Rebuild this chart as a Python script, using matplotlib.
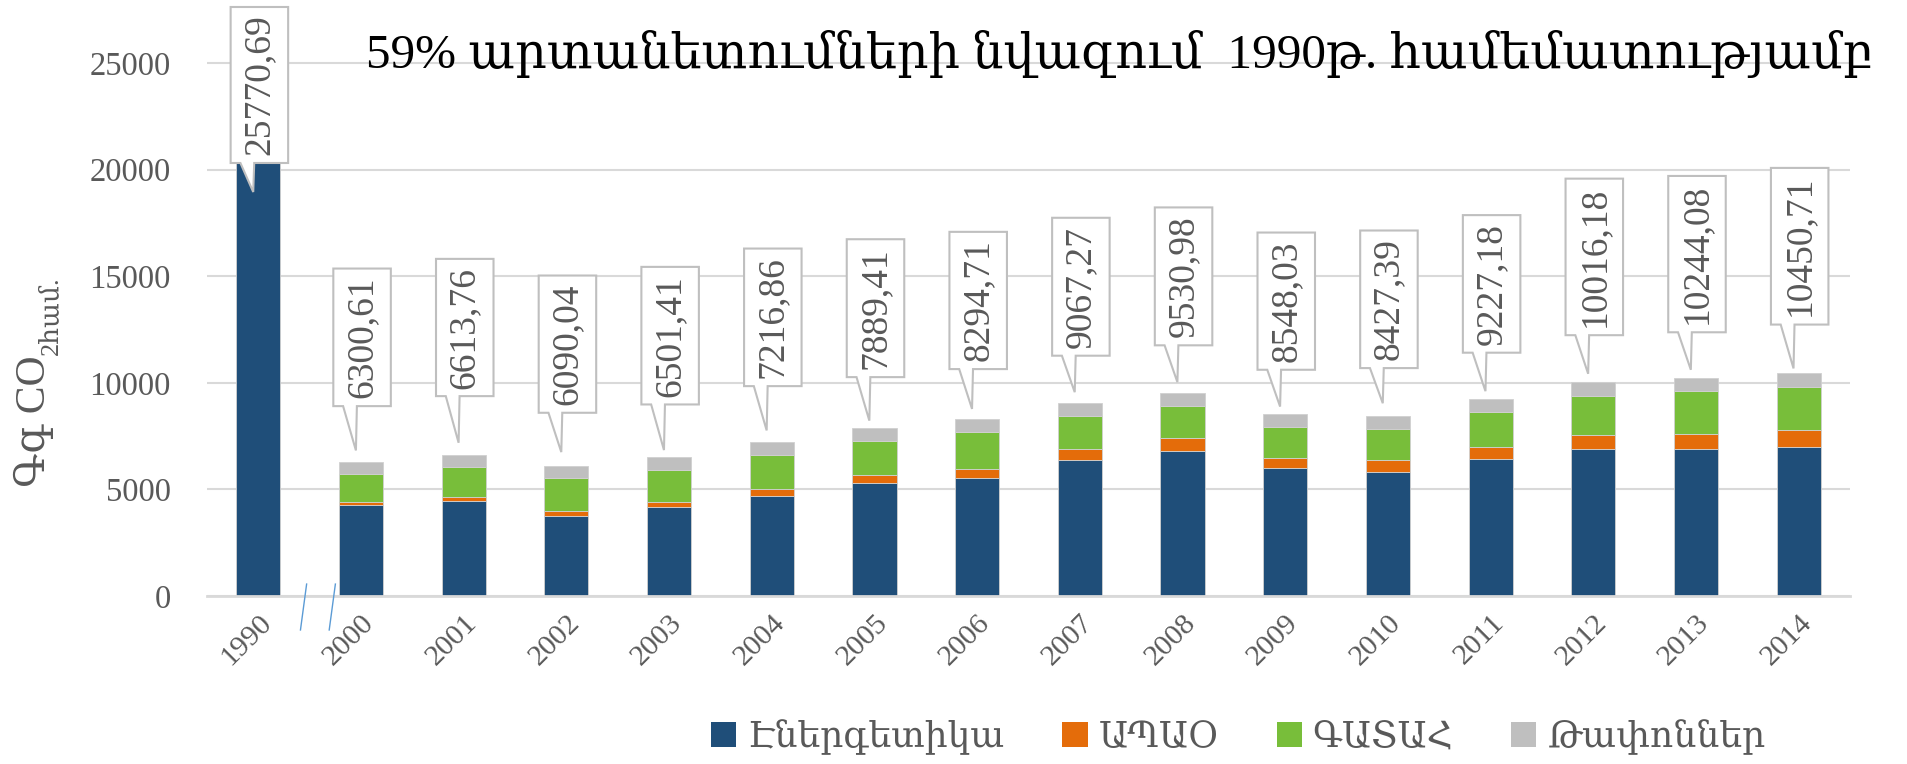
import numpy as np
import matplotlib.pyplot as plt
import matplotlib.transforms as mtransforms
from matplotlib.patches import Polygon, Patch

plt.rcParams['font.family'] = ['Liberation Serif', 'DejaVu Serif', 'DejaVu Sans']

years = ['1990', '2000', '2001', '2002', '2003', '2004', '2005', '2006', '2007',
         '2008', '2009', '2010', '2011', '2012', '2013', '2014']
energy = [25770.69, 4266, 4453, 3750, 4156, 4687, 5281, 5547, 6359, 6797, 6000,
          5812, 6406, 6890, 6875, 6984]
ippu = [0, 156, 172, 219, 235, 329, 391, 422, 516, 609, 453, 547, 594, 672, 734, 797]
afolu = [0, 1312, 1422, 1547, 1515, 1578, 1609, 1718, 1562, 1500, 1469, 1453, 1609,
         1813, 1985, 2016]
waste = [0, 567, 567, 574, 595, 623, 608, 608, 630, 625, 626, 615, 618, 641, 650, 654]
total_labels = ['25770,69', '6300,61', '6613,76', '6090,04', '6501,41', '7216,86',
                '7889,41', '8294,71', '9067,27', '9530,98', '8548,03', '8427,39',
                '9227,18', '10016,18', '10244,08', '10450,71']
series_names = ['Էներգետիկա', 'ԱՊԱՕ', 'ԳԱՏԱՀ', 'Թափոններ']

# callout layout (data units): tail tip, box bottom, box top
call_tip = [18949, 6828, 7187, 6750, 6844, 7766, 8225, 8775, 9560, 10030, 8884,
            9041, 9607, 10423, 10611, 10674]
call_bot = [20310, 8906, 9375, 8594, 8984, 9844, 10266, 10643, 11271, 11758, 10611,
            10690, 11412, 12233, 12370, 12731]
call_top = [27627, 15359, 15812, 15031, 15437, 16297, 16734, 17080, 17740, 18226,
            17048, 17143, 17865, 19576, 19702, 20079]

colors = ['#1F4E79', '#E46C0A', '#78BE3A', '#BFBFBF']
txt_gray = '#595959'
grid_gray = '#D9D9D9'

fig = plt.figure(figsize=(19.08, 7.64), dpi=100)
ax = fig.add_axes([0.1085, 0.2199, 0.8611, 0.7801])

x = np.arange(len(years))
w = 0.43
bottom = np.zeros(len(years))
for vals, c in zip([energy, ippu, afolu, waste], colors):
    vals = np.array(vals, dtype=float)
    ax.bar(x, vals, w, bottom=bottom, color=c, edgecolor='#D0D0D0', linewidth=0.6,
           zorder=2)
    bottom += vals

ax.set_xlim(-0.5, len(years) - 0.5)
ax.set_ylim(0, 27955)
ax.set_yticks(np.arange(0, 25001, 5000))
ax.yaxis.grid(True, color=grid_gray, linewidth=1.5, zorder=0)
ax.set_axisbelow(True)
for s in ['top', 'right', 'left']:
    ax.spines[s].set_visible(False)
ax.spines['bottom'].set_color(grid_gray)
ax.spines['bottom'].set_linewidth(2)
ax.tick_params(axis='y', length=0, pad=26, labelsize=23.5, labelcolor=txt_gray)
ax.tick_params(axis='x', length=0, pad=10, labelsize=21.5, labelcolor=txt_gray)
ax.set_xticks(x)
ax.set_xticklabels(years, rotation=45, ha='right', rotation_mode='anchor')

# callouts
bw = 0.56
for i in range(len(years)):
    L = x[i] - bw / 2 + 0.01
    R = L + bw
    B, T = call_bot[i], call_top[i]
    tipx = x[i] - 0.05
    pts = [(L, B), (L, T), (R, T), (R, B), (L + 0.41 * bw, B), (tipx, call_tip[i]),
           (L + 0.17 * bw, B)]
    ax.add_patch(Polygon(pts, closed=True, facecolor='white', edgecolor='#BFBFBF',
                         linewidth=1.5, zorder=4))
    ax.text((L + R) / 2, (B + T) / 2, total_labels[i], rotation=90, ha='center',
            va='center', fontsize=27, color=txt_gray, zorder=5)

# axis break marks between 1990 and 2000
trans = mtransforms.blended_transform_factory(ax.transData, ax.transAxes)
for xb in [0.44, 0.72]:
    ax.plot([xb + 0.03, xb - 0.03], [0.02, -0.057], color='#5B9BD5', linewidth=1,
            transform=trans, clip_on=False, zorder=5)

# title
fig.text(0.982, 0.911, '59% արտանետումների նվազում  1990թ. համեմատությամբ',
         ha='right', va='baseline', fontsize=35.5, color='black')

# y label with subscript
t1 = fig.text(0.018, 0.3626, 'Գգ CO', rotation=90, ha='center', va='bottom',
              fontsize=30, color=txt_gray)
fig.canvas.draw()
bb = t1.get_window_extent().transformed(fig.transFigure.inverted())
fig.text(0.027, bb.y1, '2համ.', rotation=90, ha='center', va='bottom',
         fontsize=19, color=txt_gray)

# legend
handles = [Patch(facecolor=c, edgecolor='none') for c in colors]
leg = fig.legend(handles, series_names, loc='center', bbox_to_anchor=(0.649, 0.035),
                 ncol=4, frameon=False, fontsize=26, handlelength=0.7,
                 handleheight=0.7, columnspacing=1.6, handletextpad=0.3)
for t in leg.get_texts():
    t.set_color(txt_gray)

fig.savefig('out.png', dpi=100)
